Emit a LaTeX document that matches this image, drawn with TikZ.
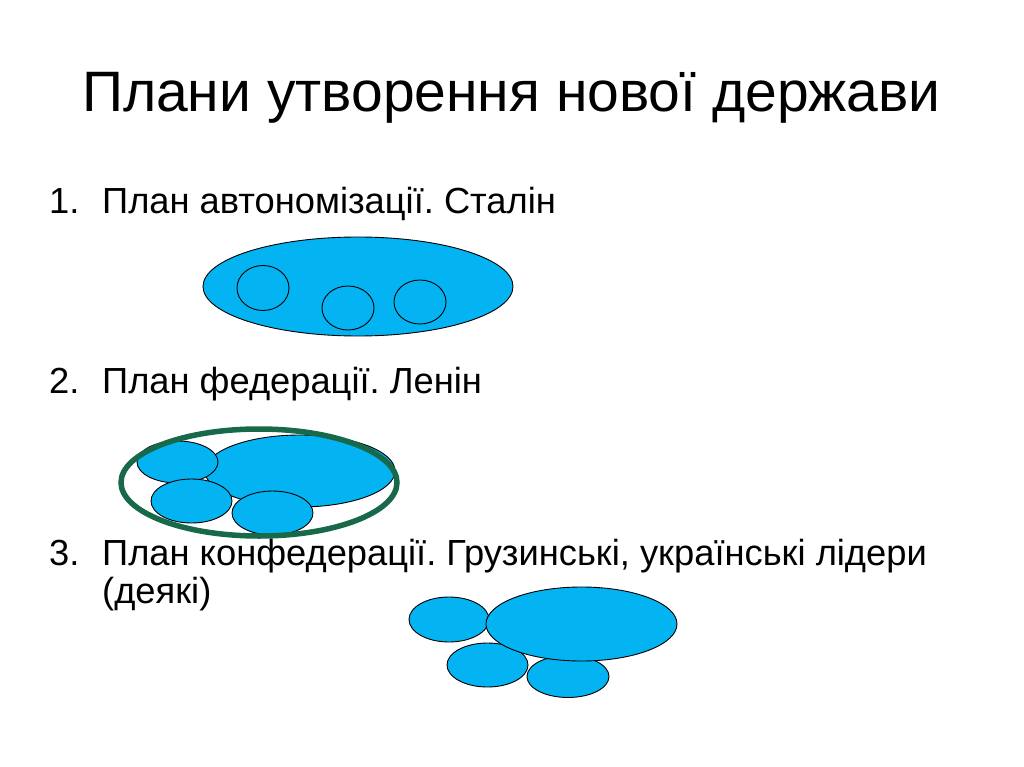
\documentclass[tikz,border=0pt]{standalone}
\usepackage{fontspec}
\setmainfont{Liberation Sans}
\usetikzlibrary{shapes.geometric}
\definecolor{stateblue}{RGB}{4,180,242}
\definecolor{ringgreen}{RGB}{24,104,74}
\frenchspacing

\begin{document}
\begin{tikzpicture}[x=1pt,y=-1pt]
    \tikzstyle{heading} = [anchor=base,inner sep=0pt,font=\fontsize{57}{60}\selectfont]
    \tikzstyle{item} = [anchor=base west,inner sep=0pt,font=\fontsize{36.3}{38}\selectfont]
    \tikzstyle{land} = [draw=black,ellipse,fill=stateblue,inner sep=0pt,line width=0.9pt]
    \tikzstyle{ring} = [draw=ringgreen,ellipse,fill=none,inner sep=0pt,line width=5.5pt]
    \useasboundingbox[fill=white] (0,0) rectangle (1024,767);
    \node[heading] (title) at (511.5,112) {Плани утворення нової держави};
    % 1. autonomisation
    \node[item] (num1) at (49,214) {1.};
    \node[item] (plan1) at (102,214) {План автономізації. Сталін};
    \node[land,minimum width=310,minimum height=99] (union1) at (358,286.5) {};
    \node[land,minimum width=52,minimum height=45] (rep11) at (263,288) {};
    \node[land,minimum width=52,minimum height=44] (rep12) at (348,308) {};
    \node[land,minimum width=52,minimum height=44] (rep13) at (420,302) {};
    % 2. federation
    \node[item] (num2) at (49,393) {2.};
    \node[item] (plan2) at (102,393) {План федерації. Ленін};
    \node[land,minimum width=190,minimum height=72] (union2) at (300,471) {};
    \node[land,minimum width=81,minimum height=42] (rep21) at (177.5,462) {};
    \node[land,minimum width=81,minimum height=44] (rep22) at (191.5,501) {};
    \node[land,minimum width=81,minimum height=44] (rep23) at (272.5,513) {};
    \node[ring,minimum width=276,minimum height=107] (fed) at (259,482.5) {};
    % 3. confederation
    \node[item] (num3) at (49,565) {3.};
    \node[item] (plan3) at (102,565) {План конфедерації. Грузинські, українські лідери};
    \node[item] (plan3b) at (102,603) {(деякі)};
    \node[land,minimum width=80,minimum height=45] (rep31) at (449,619.5) {};
    \node[land,minimum width=81,minimum height=44] (rep32) at (487.5,665) {};
    \node[land,minimum width=82,minimum height=42] (rep33) at (568,676.5) {};
    \node[land,minimum width=191,minimum height=74] (union3) at (581.5,624) {};
\end{tikzpicture}
\end{document}
